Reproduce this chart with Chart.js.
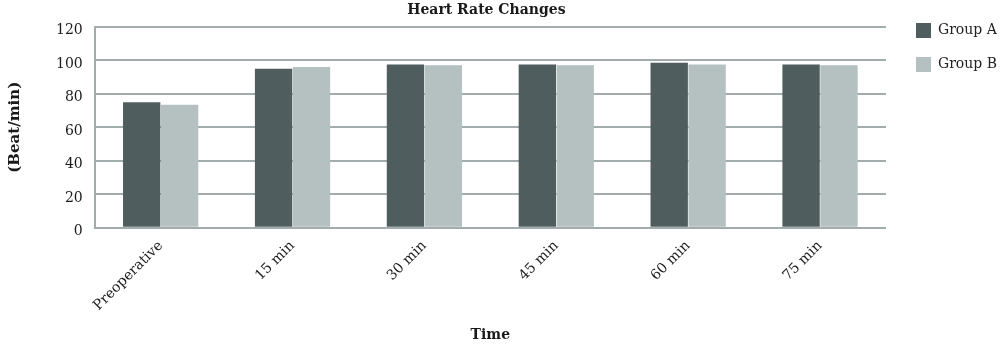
<!DOCTYPE html>
<html>
<head>
<meta charset="utf-8">
<script src="https://cdn.jsdelivr.net/npm/chart.js@4"></script>
<style>
  html, body { margin: 0; padding: 0; background: #ffffff; }
  #wrap { width: 1000px; height: 344px; position: relative; }
</style>
</head>
<body>
<div id="wrap"><canvas id="chart"></canvas></div>
<script>
// Time points and mean heart rate (beat/min) per group
const timePoints = ['Preoperative', '15 min', '30 min', '45 min', '60 min', '75 min'];
const groupA = [75, 95, 97.5, 97.5, 98.5, 97.5];
const groupB = [73.5, 96, 97, 97, 97.5, 97];
const yTicks = [0, 20, 40, 60, 80, 100, 120];

const FONT = '"DejaVu Serif", "Liberation Serif", serif';
const GRID = '#a3acac';

// Center the title over the plot area and nudge the legend block
const layoutTweaks = {
  id: 'layoutTweaks',
  afterLayout(chart) {
    const area = chart.chartArea;
    const tb = chart.titleBlock;
    if (tb) { tb.left = area.left - 4; tb.right = area.right - 4; tb.width = tb.right - tb.left; }
    const lg = chart.legend;
    if (lg) {
      const dx = 11, dy = 2;
      lg.left += dx; lg.right += dx;
      lg.top += dy; lg.bottom += dy;
      if (lg.legendHitBoxes) lg.legendHitBoxes.forEach(h => { h.left += dx; h.top += dy; });
    }
  }
};

new Chart(document.getElementById('chart'), {
  type: 'bar',
  data: {
    labels: timePoints,
    datasets: [
      { label: 'Group A', data: groupA, backgroundColor: '#4f5d5e', borderWidth: 0 },
      { label: 'Group B', data: groupB, backgroundColor: '#b5c1c0', borderWidth: 0 }
    ]
  },
  plugins: [layoutTweaks],
  options: {
    responsive: true,
    maintainAspectRatio: false,
    animation: false,
    datasets: { bar: { categoryPercentage: 0.575, barPercentage: 0.985 } },
    layout: { padding: { left: 6, right: 4, top: 2, bottom: 0 } },
    plugins: {
      title: {
        display: true,
        text: 'Heart Rate Changes',
        color: '#1a1a1a',
        font: { family: FONT, size: 14, weight: 'bold' },
        padding: { top: 0, bottom: 8 }
      },
      legend: {
        position: 'right',
        align: 'start',
        labels: {
          color: '#222',
          font: { family: FONT, size: 14 },
          boxWidth: 15,
          boxHeight: 15,
          padding: 19
        }
      },
      tooltip: { enabled: false }
    },
    scales: {
      x: {
        grid: { display: false },
        border: { display: true, color: GRID, width: 2 },
        ticks: {
          color: '#1a1a1a',
          font: { family: FONT, size: 14 },
          maxRotation: 45,
          minRotation: 45,
          padding: 2
        },
        title: {
          display: true,
          text: 'Time',
          color: '#1a1a1a',
          font: { family: FONT, size: 14, weight: 'bold' },
          padding: { top: 11, bottom: 0 }
        }
      },
      y: {
        min: 0,
        max: 120,
        afterBuildTicks: (axis) => { axis.ticks = yTicks.map(v => ({ value: v })); },
        grid: { color: GRID, lineWidth: 2, drawTicks: false },
        border: { display: true, color: GRID, width: 2 },
        ticks: {
          color: '#1a1a1a',
          font: { family: FONT, size: 14 },
          padding: 12,
          labelOffset: 4
        },
        title: {
          display: true,
          text: '(Beat/min)',
          color: '#1a1a1a',
          font: { family: FONT, size: 15, weight: 'bold' },
          padding: { top: 0, bottom: 20 }
        }
      }
    }
  }
});
</script>
</body>
</html>
